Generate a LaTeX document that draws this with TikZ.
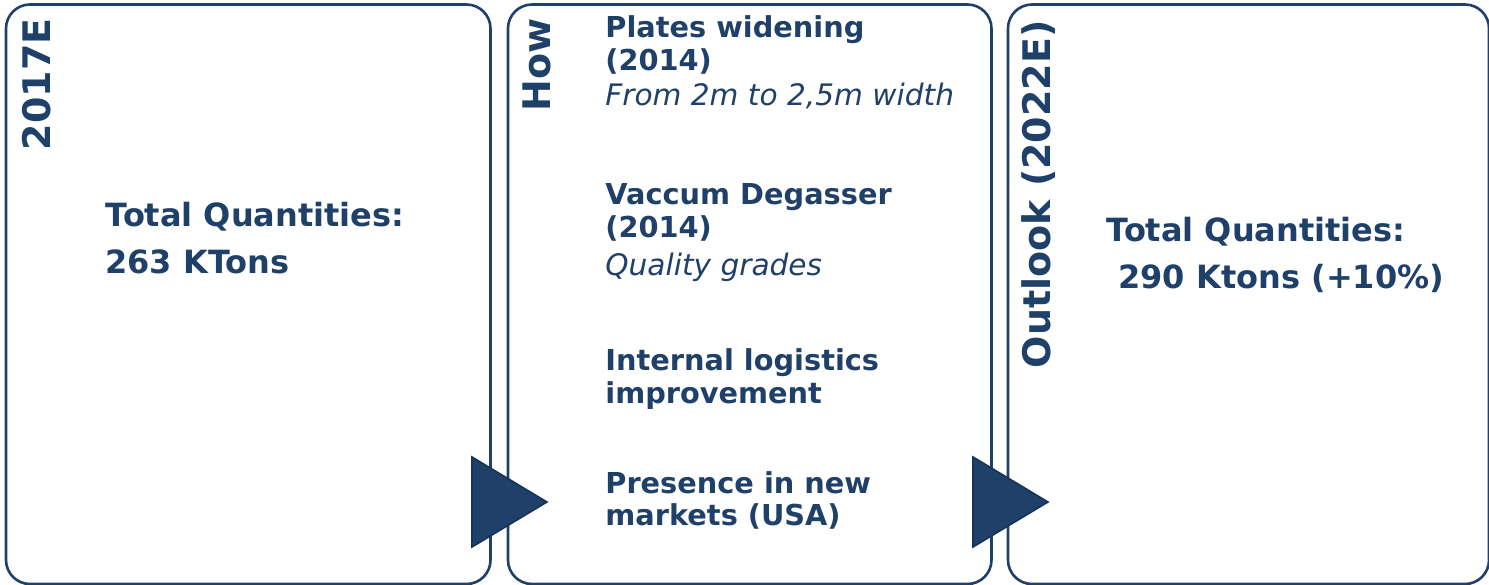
\documentclass[tikz,border=0pt]{standalone}
\usepackage{fontspec}
\setmainfont{DejaVu Sans}
\definecolor{navy}{RGB}{31,64,104}
\definecolor{navyedge}{RGB}{22,50,85}
\tikzset{
  panel/.style={draw=navy, line width=1.3pt, rounded corners=12pt},
  tri/.style={fill=navy, draw=navyedge, line width=0.8pt, line join=miter},
  title/.style={rotate=90, anchor=base east, inner sep=0pt, text=navy, font=\fontsize{19}{22}\selectfont\bfseries},
  big/.style={anchor=base west, inner sep=0pt, text=navy, font=\fontsize{16}{19}\selectfont\bfseries},
  item/.style={anchor=base west, inner sep=0pt, text=navy, font=\fontsize{14.4}{16.5}\selectfont\bfseries},
  note/.style={anchor=base west, inner sep=0pt, text=navy, font=\fontsize{14.8}{17}\selectfont\itshape},
}
\begin{document}
\begin{tikzpicture}[x=0.5pt, y=-0.5pt]
\useasboundingbox (0,0) rectangle (1489,584);
% panels
\draw[panel] (6,4.5) rectangle (490.5,584);
\draw[panel] (508,4.5) rectangle (991.5,584);
\draw[panel] (1008,4.5) rectangle (1489,584);
% titles
\node[title] (t1) at (50.5,18) {2017E};
\node[title] (t2) at (550.5,18) {How};
\node[title] (t3) at (1050,20) {Outlook (2022E)};
% left panel
\node[big] (l1) at (105,226) {Total Quantities:};
\node[big] (l2) at (105,273) {263 KTons};
% middle panel
\node[item] (m1) at (605,37) {Plates widening};
\node[item] (m2) at (605,70) {(2014)};
\node[note] (m3) at (605,105) {From 2m to 2,5m width};
\node[item] (m4) at (605,204) {Vaccum Degasser};
\node[item] (m5) at (605,237) {(2014)};
\node[note] (m6) at (605,275) {Quality grades};
\node[item] (m7) at (605,370) {Internal logistics};
\node[item] (m8) at (605,403) {improvement};
\node[item] (m9) at (605,493) {Presence in new};
\node[item] (m10) at (605,525) {markets (USA)};
% right panel
\node[big] (r1) at (1106,241) {Total Quantities:};
\node[big] (r2) at (1118,288) {290 Ktons (+10\%)};
% arrows
\draw[tri] (472,457) -- (472,547) -- (547,502) -- cycle;
\draw[tri] (973,457) -- (973,547) -- (1048,502) -- cycle;
\end{tikzpicture}
\end{document}
